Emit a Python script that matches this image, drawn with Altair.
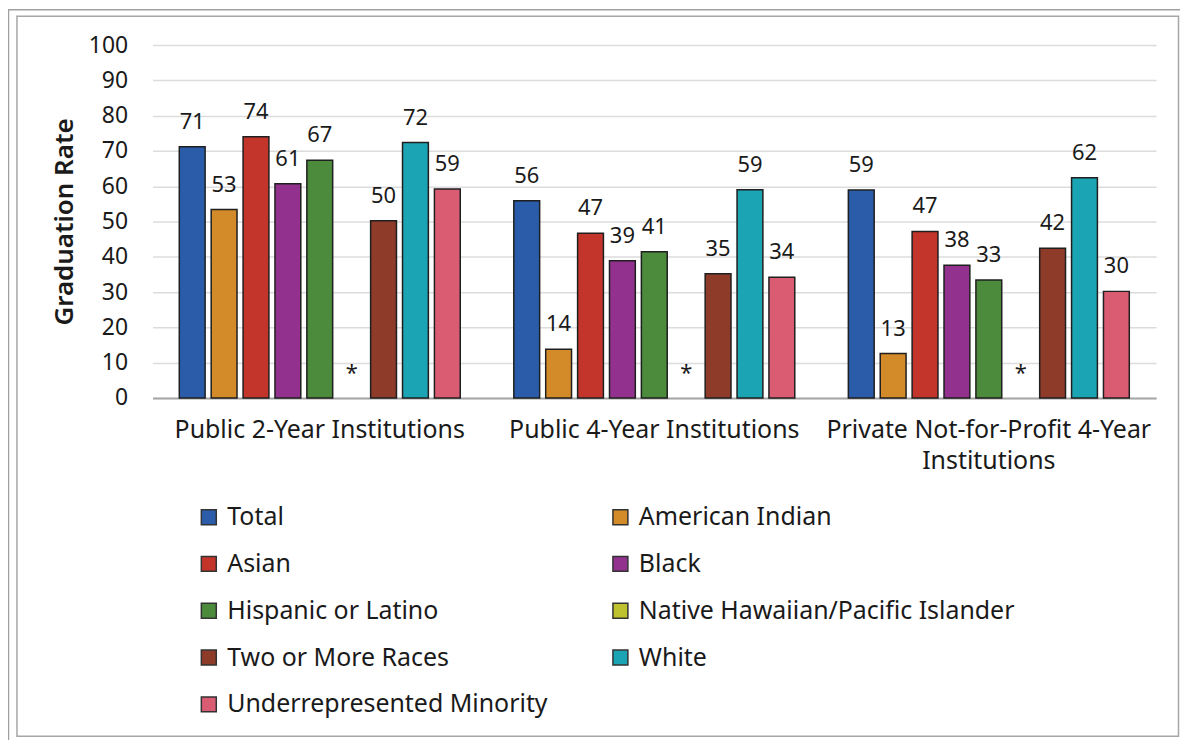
import altair as alt
import pandas as pd

institutions = [
    "Public 2-Year Institutions",
    "Public 4-Year Institutions",
    "Private Not-for-Profit 4-Year Institutions",
]
races = [
    "Total",
    "American Indian",
    "Asian",
    "Black",
    "Hispanic or Latino",
    "Native Hawaiian/Pacific Islander",
    "Two or More Races",
    "White",
    "Underrepresented Minority",
]
colors = ["#2a5caa", "#d38b2a", "#c3352a", "#93328e", "#4b8b3b",
          "#bfc22f", "#8e3b2a", "#1ba5b4", "#d95c73"]

public_2yr = [71.2, 53.4, 74.0, 60.7, 67.4, None, 50.2, 72.4, 59.2]
public_4yr = [55.9, 13.8, 46.7, 38.9, 41.4, None, 35.2, 59.0, 34.2]
private_4yr = [58.9, 12.6, 47.2, 37.6, 33.4, None, 42.4, 62.4, 30.2]
y_ticks = [0, 10, 20, 30, 40, 50, 60, 70, 80, 90, 100]

# legend is laid out in two columns, read row by row
legend_order = [races[i] for i in [0, 2, 4, 6, 8, 1, 3, 5, 7]]
legend_colors = [colors[races.index(r)] for r in legend_order]

rows = []
for inst, vals in zip(institutions, [public_2yr, public_4yr, private_4yr]):
    for race, v in zip(races, vals):
        rows.append({"institution": inst, "race": race, "value": v})
df = pd.DataFrame(rows)

FONT = "Noto Sans"
TXT = "#1a1a1a"

x_enc = alt.X(
    "institution:N",
    sort=institutions,
    title=None,
    scale=alt.Scale(paddingInner=0, paddingOuter=0),
    axis=alt.Axis(
        labelAngle=0,
        labelFontSize=25,
        labelColor=TXT,
        labelPadding=20,
        labelLineHeight=31,
        labelOverlap=False,
        labelLimit=600,
        ticks=False,
        domainColor="#a6a6a6",
        domainWidth=2,
        labelExpr="datum.value == 'Private Not-for-Profit 4-Year Institutions' ? ['Private Not-for-Profit 4-Year', 'Institutions'] : datum.label",
    ),
)
xo_enc = alt.XOffset(
    "race:N",
    sort=races,
    scale=alt.Scale(domain=races, paddingInner=0.19, paddingOuter=0.84),
)
y_scale = alt.Scale(domain=[0, 100], nice=False)
y_axis = alt.Axis(
    values=y_ticks,
    tickCount=len(y_ticks) + 1,
    grid=True,
    gridColor="#dcdcdc",
    gridWidth=1.5,
    domain=False,
    ticks=False,
    labelOverlap=False,
    labelFontSize=23,
    labelColor=TXT,
    labelPadding=25,
    titleFontSize=26,
    titleFontWeight=600,
    titleColor=TXT,
    titleX=-88,
    titleY=177,
    titleAngle=270,
    titleAlign="center",
    titleBaseline="middle",
)

base = alt.Chart(df).transform_calculate(
    label="isValid(datum.value) ? format(datum.value, '.0f') : '*'",
    ypos="isValid(datum.value) ? datum.value : 0",
)

bars = base.transform_filter("isValid(datum.value)").mark_bar(
    stroke="#1f1f1f", strokeWidth=1.5
).encode(
    x=x_enc,
    xOffset=xo_enc,
    y=alt.Y("ypos:Q", title="Graduation Rate", scale=y_scale, axis=y_axis),
    color=alt.Color(
        "race:N",
        scale=alt.Scale(domain=legend_order, range=legend_colors),
        legend=alt.Legend(
            title=None,
            orient="none",
            legendX=44,
            legendY=461,
            columns=2,
            symbolType="square",
            symbolSize=225,
            symbolStrokeColor="#333333",
            symbolStrokeWidth=1.5,
            labelFontSize=25,
            labelColor=TXT,
            labelOffset=6,
            rowPadding=21,
            columnPadding=60,
            padding=0,
            labelLimit=600,
        ),
    ),
)

labels = base.mark_text(dy=-18, baseline="alphabetic", fontSize=22, color=TXT).encode(
    x=x_enc,
    xOffset=xo_enc,
    y=alt.Y("ypos:Q", title="Graduation Rate", scale=y_scale),
    text="label:N",
)

frame_df = pd.DataFrame({"k": [0]})
outer = alt.Chart(frame_df).mark_rect(
    filled=False, stroke="#a0a0a0", strokeWidth=1.5
).encode(x=alt.value(-144.5), x2=alt.value(2000), y=alt.value(-35.5), y2=alt.value(2000))
inner = alt.Chart(frame_df).mark_rect(
    filled=False, stroke="#a6a6a6", strokeWidth=1.5
).encode(x=alt.value(-136), x2=alt.value(1029.5), y=alt.value(-29), y2=alt.value(693.5))

chart = alt.layer(outer, inner, bars, labels).properties(
    width=1007,
    height=354,
    padding={"left": 145, "top": 36, "right": 24, "bottom": 342},
    autosize=alt.AutoSizeParams(type="none"),
    background="white",
).configure(font=FONT).configure_view(stroke=None)

chart.save("out.html", embed_options={"renderer": "svg", "actions": False})
